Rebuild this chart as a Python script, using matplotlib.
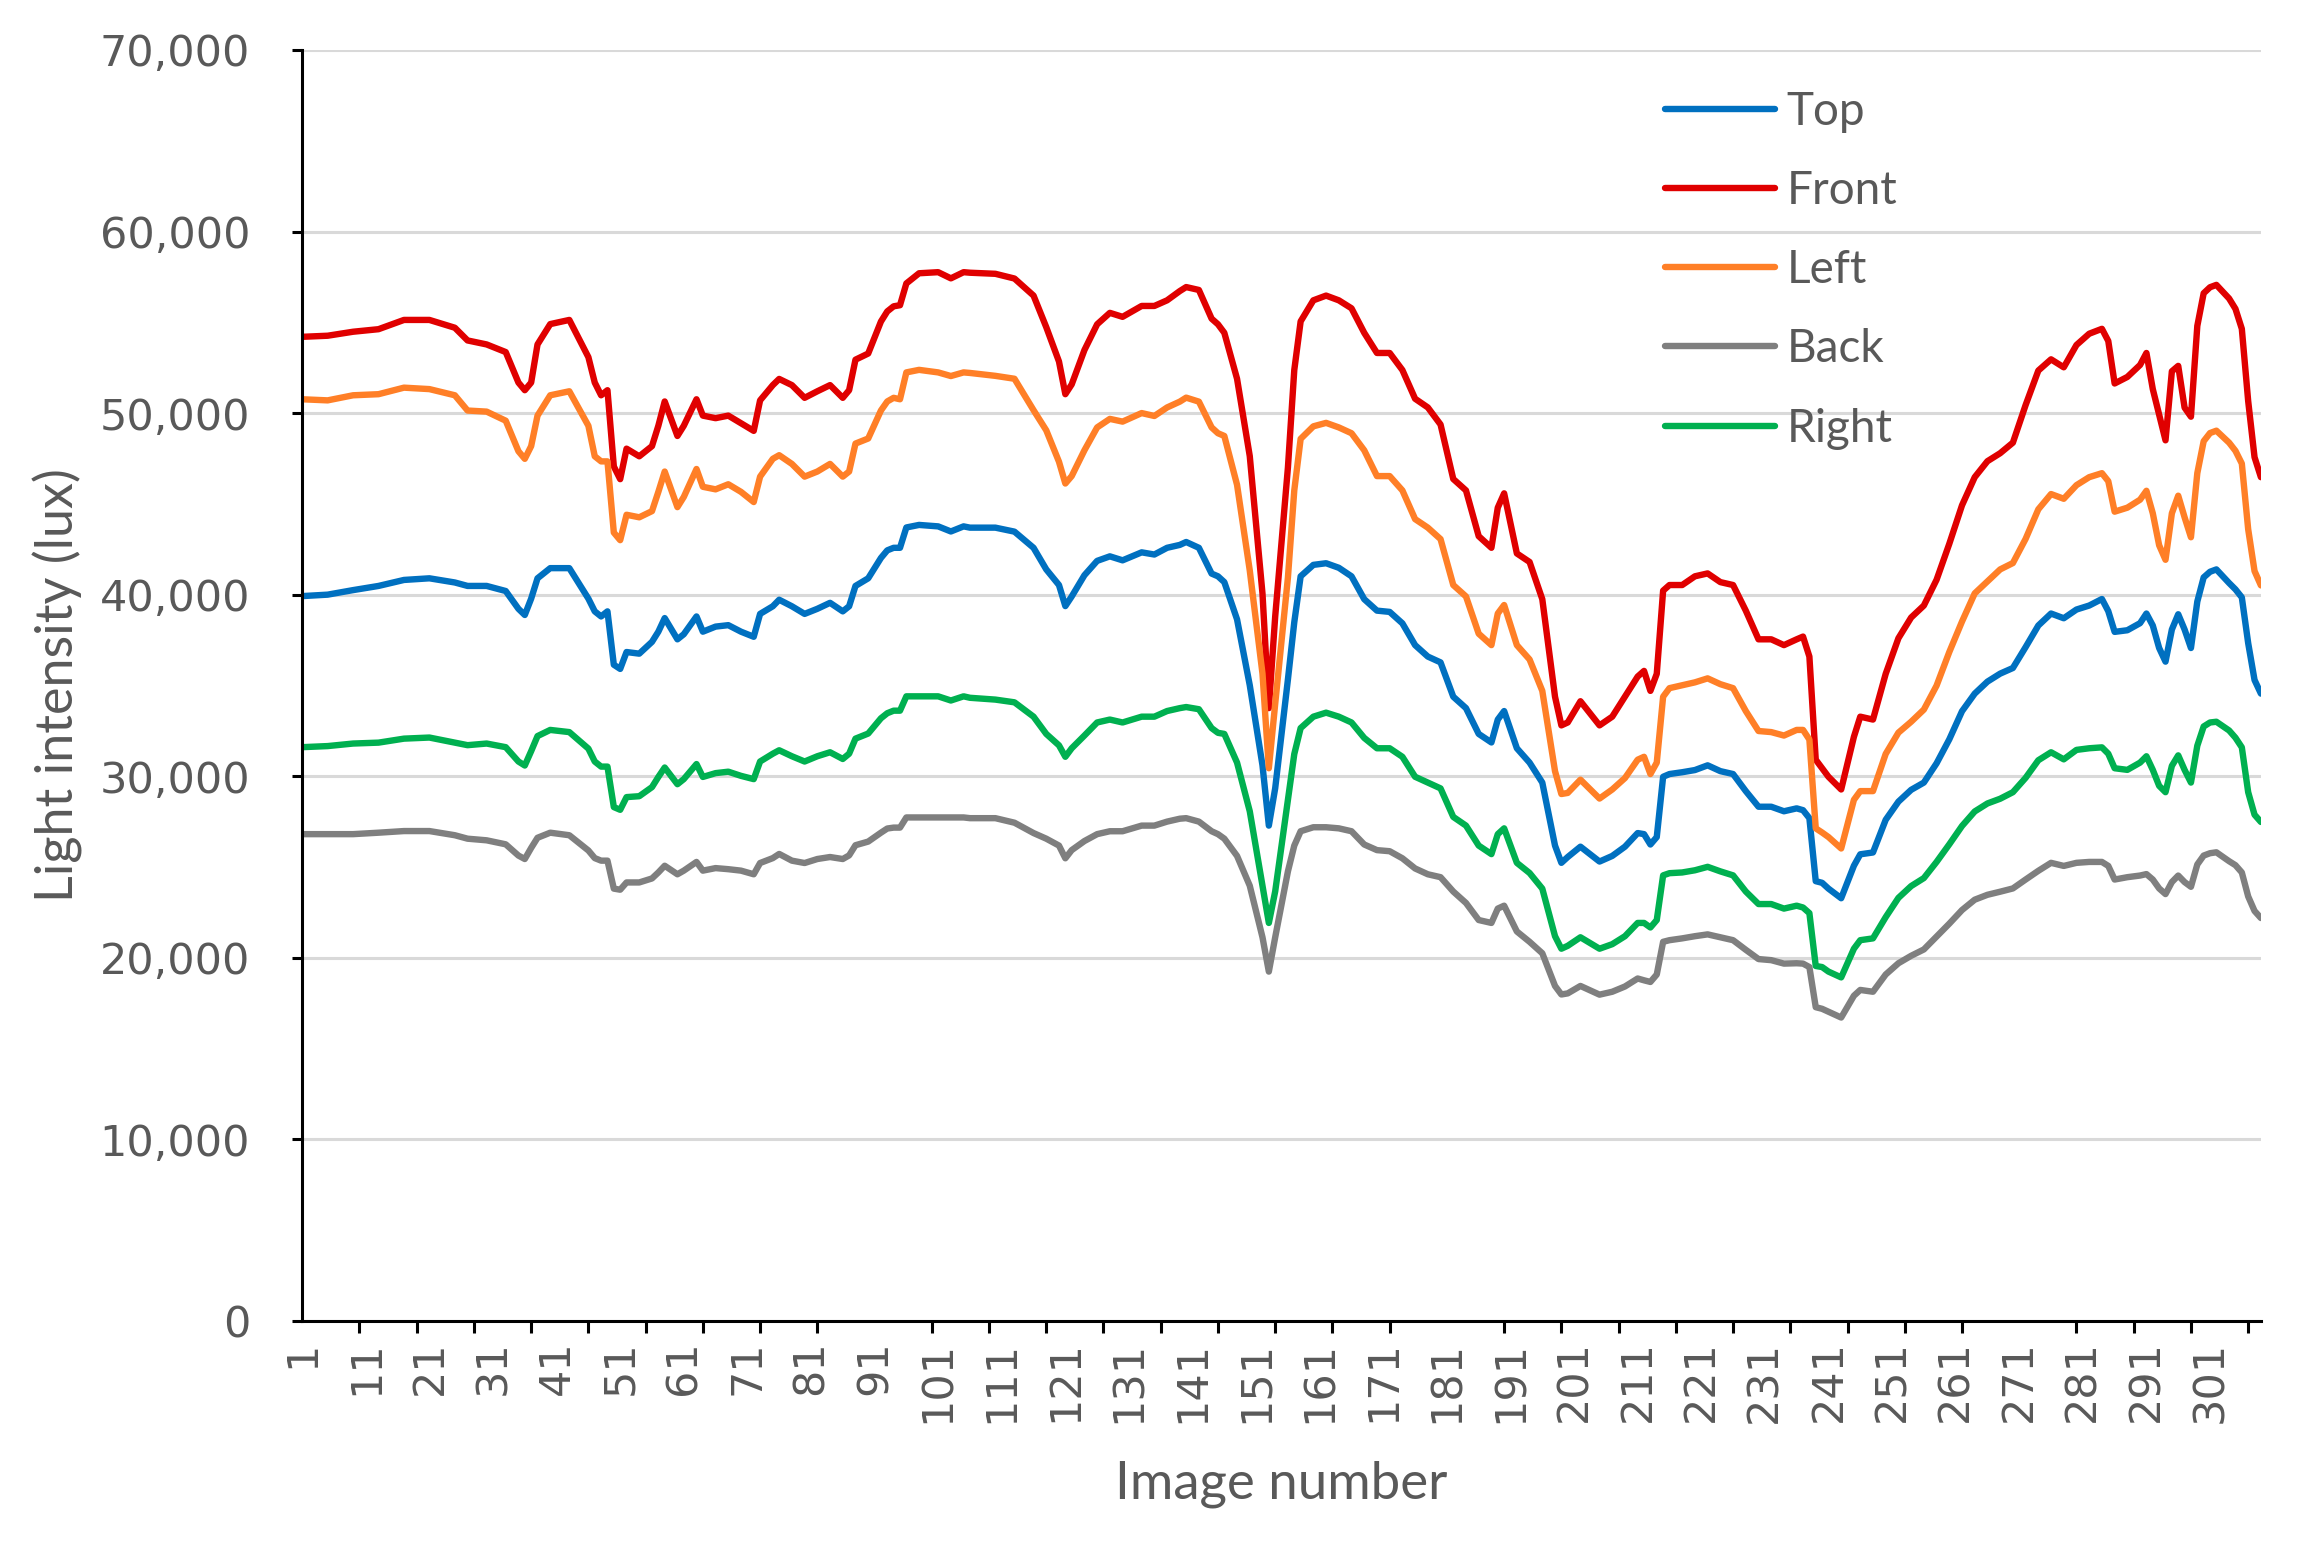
import matplotlib
matplotlib.use('Agg')
import matplotlib.pyplot as plt

image_no = [
    1, 5, 9, 13, 17, 21, 25, 27, 30, 33,
    35, 36, 37, 38, 40, 43, 46, 47, 48, 49,
    50, 51, 52, 54, 56, 57, 58, 60, 61, 63,
    64, 66, 68, 70, 72, 73, 75, 76, 78, 80,
    82, 84, 86, 87, 88, 90, 92, 93, 94, 95,
    96, 98, 101, 103, 105,
    106, 110, 113, 116, 118, 120, 121, 122, 124, 126,
    128, 130, 133, 135, 137, 139, 140, 142, 144, 145,
    146, 148, 150, 152, 153, 154, 156, 157, 158, 160,
    162, 164, 166, 168, 170, 172, 174, 176, 178, 180,
    182, 184, 186, 188, 189, 190, 192, 194, 196, 198,
    199, 200, 202,
    205, 207, 209, 211, 212, 213, 214, 215, 216, 218,
    220, 222, 224, 226, 228, 230, 232, 234, 236, 237,
    238, 239, 240, 241, 243, 245, 246, 248, 250, 252,
    254, 256, 258, 260, 262, 264, 266, 268, 270, 272,
    274, 276, 278, 280, 282, 284, 285, 286, 288, 290,
    291, 292, 293, 294, 295, 296, 297, 298, 299, 300,
    301, 302, 304, 305, 306, 307, 308, 309,
]

# Light intensity (lux) per sensor
top = [
    39920, 40000, 40250, 40480, 40810, 40900, 40670, 40480, 40480, 40200,
    39220, 38880, 39780, 40900, 41460, 41460, 39780, 39080, 38800, 39080,
    36140, 35910, 36840, 36750, 37400, 37960, 38710, 37540, 37820, 38800,
    37960, 38240, 38320, 37960, 37680, 38940, 39360, 39720, 39360, 38940,
    39220, 39550, 39080, 39360, 40480, 40900, 42020, 42440, 42580, 42580,
    43700, 43840, 43760, 43480, 43760,
    43690, 43690, 43470, 42580, 41390, 40530, 39370, 39900, 41070, 41860,
    42110, 41890, 42330, 42210, 42580, 42740, 42900, 42580, 41160, 41010,
    40690, 38640, 35010, 30600, 27280, 29340, 35330, 38480, 41010, 41640,
    41730, 41480, 41010, 39750, 39120, 39050, 38420, 37220, 36590, 36270,
    34380, 33750, 32330, 31860, 33120, 33590, 31540, 30750, 29650, 26180,
    25230, 25550, 26120,
    25300, 25610, 26120, 26870, 26810, 26240, 26650, 29970, 30120, 30220,
    30340, 30600, 30280, 30120, 29180, 28320, 28320, 28070, 28230, 28130,
    27690, 24220, 24130, 23810, 23280, 25070, 25700, 25800, 27600, 28600,
    29250, 29650, 30710, 32030, 33580, 34550, 35210, 35650, 35960, 37110,
    38300, 38960, 38700, 39180, 39400, 39760, 39090, 37950, 38040, 38430,
    38960, 38300, 37060, 36310, 38080, 38920, 38080, 37060, 39620, 40950,
    41260, 41390, 40640, 40290, 39850, 37330, 35300, 34550,
]

front = [
    54200, 54260, 54480, 54620, 55130, 55130, 54700, 54000, 53780, 53360,
    51680, 51260, 51680, 53780, 54900, 55130, 53080, 51680, 50980, 51260,
    47060, 46360, 48040, 47620, 48180, 49300, 50640, 48740, 49300, 50760,
    49860, 49720, 49860, 49440, 49020, 50700, 51540, 51880, 51540, 50840,
    51200, 51540, 50840, 51260, 52940, 53280, 55040, 55600, 55880, 55940,
    57140, 57700, 57760, 57420, 57760,
    57730, 57670, 57410, 56470, 54730, 52840, 51040, 51580, 53470, 54890,
    55520, 55300, 55900, 55900, 56210, 56720, 56940, 56780, 55200, 54890,
    54420, 51890, 47630, 40060, 33750, 38800, 47000, 52370, 55050, 56210,
    56470, 56210, 55770, 54420, 53310, 53310, 52370, 50790, 50310, 49370,
    46370, 45740, 43220, 42580, 44790, 45580, 42270, 41800, 39750, 34380,
    32800, 32960, 34130,
    32800, 33280, 34380, 35490, 35800, 34700, 35640, 40220, 40530, 40530,
    41010, 41170, 40690, 40530, 39120, 37540, 37540, 37220, 37540, 37690,
    36590, 30910, 30440, 29970, 29270, 32170, 33280, 33120, 35640, 37600,
    38740, 39400, 40820, 42800, 44920, 46470, 47350, 47790, 48370, 50440,
    52340, 52960, 52520, 53750, 54370, 54640, 53970, 51630, 51990, 52650,
    53310, 51320, 49900, 48500, 52300, 52600, 50300, 49800, 54800, 56600,
    56930, 57060, 56310, 55740, 54640, 50660, 47570, 46470,
]

left = [
    50760, 50700, 50980, 51040, 51400, 51320, 50980, 50140, 50080, 49580,
    47900, 47480, 48180, 49860, 50980, 51200, 49300, 47620, 47340, 47340,
    43420, 43000, 44400, 44260, 44600, 45660, 46780, 44820, 45380, 46920,
    45940, 45800, 46080, 45660, 45100, 46500, 47480, 47680, 47200, 46500,
    46780, 47200, 46500, 46780, 48320, 48600, 50140, 50640, 50840, 50760,
    52240, 52380, 52240, 52040, 52240,
    52210, 52050, 51890, 50160, 49050, 47320, 46120, 46530, 47950, 49210,
    49680, 49530, 50000, 49840, 50310, 50630, 50850, 50630, 49210, 48890,
    48740, 46050, 41330, 35650, 30440, 33990, 40940, 45740, 48580, 49270,
    49460, 49210, 48890, 47950, 46530, 46530, 45740, 44160, 43690, 43060,
    40530, 39900, 37850, 37220, 38960, 39430, 37220, 36430, 34700, 30280,
    29020, 29080, 29810,
    28770, 29270, 29900, 30910, 31070, 30120, 30750, 34380, 34850, 35010,
    35170, 35390, 35070, 34850, 33590, 32490, 32430, 32240, 32550, 32550,
    32020, 27130, 26900, 26650, 26020, 28700, 29180, 29180, 31230, 32400,
    33000, 33670, 34990, 36840, 38520, 40070, 40730, 41390, 41740, 43070,
    44700, 45540, 45280, 46030, 46470, 46690, 46250, 44570, 44790, 45230,
    45720, 44480, 42720, 41920, 44480, 45450, 44260, 43160, 46690, 48450,
    48900, 49030, 48370, 47920, 47220, 43600, 41300, 40510,
]

back = [
    26810, 26810, 26810, 26890, 26980, 26980, 26750, 26560, 26470, 26250,
    25630, 25440, 26050, 26610, 26890, 26750, 25910, 25490, 25350, 25350,
    23810, 23750, 24150, 24150, 24370, 24700, 25070, 24600, 24800, 25280,
    24800, 24940, 24880, 24800, 24600, 25220, 25490, 25720, 25350, 25220,
    25440, 25550, 25440, 25640, 26200, 26400, 26890, 27120, 27170, 27170,
    27730, 27730, 27730, 27730, 27730,
    27690, 27690, 27440, 26870, 26560, 26180, 25480, 25930, 26430, 26810,
    26970, 26970, 27280, 27280, 27500, 27660, 27690, 27500, 26970, 26810,
    26560, 25610, 23970, 21130, 19240, 21130, 24760, 26180, 26970, 27190,
    27190, 27130, 26970, 26240, 25930, 25870, 25480, 24920, 24600, 24440,
    23650, 23020, 22080, 21920, 22710, 22870, 21450, 20880, 20250, 18450,
    17980, 18040, 18450,
    17970, 18130, 18420, 18860, 18760, 18670, 19080, 20880, 20970, 21070,
    21190, 21290, 21130, 20970, 20440, 19930, 19870, 19680, 19700, 19680,
    19490, 17280, 17190, 17030, 16710, 17910, 18230, 18130, 19080, 19700,
    20110, 20460, 21170, 21880, 22630, 23200, 23470, 23640, 23820, 24310,
    24790, 25230, 25060, 25230, 25280, 25280, 25060, 24310, 24440, 24530,
    24610, 24310, 23820, 23510, 24170, 24530, 24170, 23910, 25140, 25630,
    25760, 25810, 25320, 25100, 24700, 23380, 22580, 22190,
]

right = [
    31600, 31660, 31800, 31850, 32070, 32130, 31850, 31710, 31800, 31600,
    30810, 30590, 31380, 32210, 32550, 32430, 31520, 30810, 30530, 30530,
    28300, 28150, 28850, 28900, 29400, 29960, 30480, 29560, 29840, 30670,
    29960, 30170, 30250, 30020, 29840, 30810, 31240, 31430, 31100, 30810,
    31100, 31320, 30950, 31240, 32070, 32350, 33190, 33470, 33610, 33610,
    34400, 34400, 34400, 34170, 34400,
    34320, 34220, 34070, 33280, 32330, 31700, 31070, 31540, 32240, 32960,
    33120, 32960, 33280, 33280, 33590, 33750, 33810, 33690, 32650, 32390,
    32330, 30750, 28070, 23970, 21920, 23660, 28700, 31220, 32650, 33280,
    33500, 33280, 32960, 32110, 31540, 31540, 31070, 29970, 29650, 29330,
    27760, 27280, 26180, 25710, 26810, 27130, 25230, 24670, 23810, 21190,
    20500, 20660, 21130,
    20500, 20750, 21190, 21920, 21920, 21670, 22080, 24540, 24660, 24700,
    24820, 25010, 24760, 24540, 23650, 22960, 22960, 22710, 22870, 22770,
    22460, 19550, 19490, 19240, 18920, 20500, 20970, 21070, 22240, 23300,
    23950, 24390, 25280, 26250, 27260, 28060, 28500, 28760, 29120, 29910,
    30880, 31320, 30930, 31450, 31540, 31590, 31240, 30440, 30350, 30750,
    31100, 30350, 29470, 29120, 30570, 31150, 30350, 29650, 31680, 32740,
    32960, 33000, 32520, 32120, 31590, 29120, 27880, 27480,
]

series_names = ['Top', 'Front', 'Left', 'Back', 'Right']
series_colors = ['#0070C0', '#E00000', '#FF7F27', '#7F7F7F', '#00B050']

label_ticks = list(range(1, 302, 10))   # 1, 11, ..., 301
mark_ticks = list(range(1, 309, 9))     # tick marks every 9 images
y_ticks = list(range(0, 70001, 10000))

text_grey = '#595959'

fig = plt.figure(figsize=(23, 15.41), dpi=100)
ax = fig.add_axes([0.1314, 0.1428, 0.8516, 0.8248])

for name, vals, col in zip(series_names, [top, front, left, back, right], series_colors):
    ax.plot(image_no, vals, color=col, lw=4.6, label=name,
            solid_joinstyle='round', solid_capstyle='round', zorder=3)

ax.set_xlim(1, 309)
ax.set_ylim(0, 70000)

# y axis
ax.set_yticks(y_ticks)
ax.set_yticklabels([f'{v:,}' for v in y_ticks])
ax.yaxis.grid(True, color='#D9D9D9', lw=2.2, zorder=0)
ax.set_axisbelow(True)
ax.tick_params(axis='y', direction='out', length=7.5, width=2.2, pad=30,
               labelsize=31, labelcolor=text_grey, color='black')

# x axis: labels every 10, tick marks every 9
ax.set_xticks(label_ticks)
ax.set_xticklabels([str(v) for v in label_ticks], rotation=90)
ax.set_xticks(mark_ticks, minor=True)
ax.tick_params(axis='x', which='major', length=0, pad=14,
               labelsize=31, labelcolor=text_grey)
ax.tick_params(axis='x', which='minor', direction='out', length=8.5,
               width=2.2, color='black')

for s in ['top', 'right']:
    ax.spines[s].set_visible(False)
for s in ['left', 'bottom']:
    ax.spines[s].set_linewidth(2.2)
    ax.spines[s].set_color('black')
    ax.spines[s].set_zorder(4)

# axis titles
fig.text(1281 / 2300, 1 - 1484 / 1541, 'Image number', family='Lato',
         fontsize=38, color=text_grey, ha='center', va='center')
fig.text(58 / 2300, 1 - 685 / 1541, 'Light intensity (lux)', family='Lato',
         fontsize=37.5, color=text_grey, ha='center', va='center', rotation=90)

leg = ax.legend(loc='upper left', bbox_to_anchor=(0.7239, 0.9409),
                bbox_transform=fig.transFigure, frameon=False,
                prop={'family': 'Lato', 'size': 33},
                handlelength=2.4, handletextpad=0.25, labelspacing=0.81,
                borderpad=0, borderaxespad=0)
for t in leg.get_texts():
    t.set_color(text_grey)

fig.savefig('out.png', dpi=100)
